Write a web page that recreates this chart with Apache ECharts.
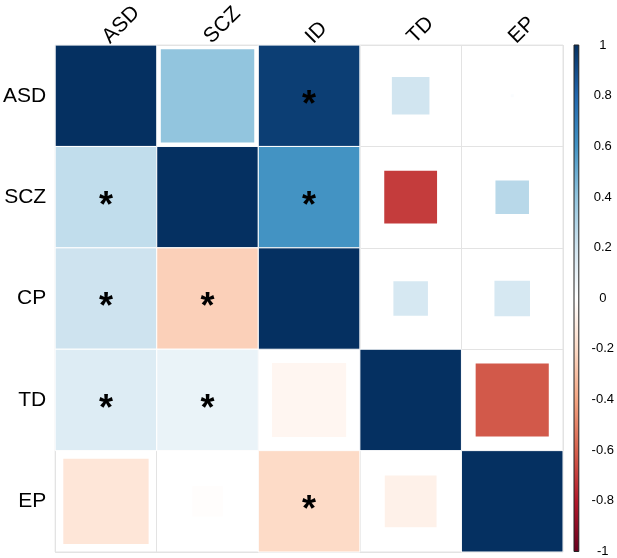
<!DOCTYPE html>
<html>
<head>
<meta charset="utf-8">
<script src="https://cdn.jsdelivr.net/npm/echarts@6/dist/echarts.min.js"></script>
<style>
html,body{margin:0;padding:0;background:#fff;}
#chart{width:617px;height:558px;}
</style>
</head>
<body>
<div id="chart"></div>
<script>
// ---- data ----
var columns = ['ASD', 'SCZ', 'ID', 'TD', 'EP'];
var rows = ['ASD', 'SCZ', 'CP', 'TD', 'EP'];
// correlation values (row by row)
var valASD = [1, 0.40, 0.95, 0.20, 0.02];
var valSCZ = [0.25, 1, 0.60, -0.70, 0.28];
var valCP  = [0.21, -0.24, 1, 0.18, 0.18];
var valTD  = [0.15, 0.09, -0.05, 1, -0.62];
var valEP  = [-0.14, -0.01, -0.20, -0.08, 1];
// relative square size in cell
var sizeASD = [1, 0.92, 1, 0.37, 0.03];
var sizeSCZ = [1, 1, 1, 0.52, 0.33];
var sizeCP  = [1, 1, 1, 0.34, 0.35];
var sizeTD  = [1, 1, 0.73, 1, 0.72];
var sizeEP  = [0.84, 0.30, 1, 0.51, 1];
// significance stars
var starASD = [0, 0, 1, 0, 0];
var starSCZ = [1, 0, 1, 0, 0];
var starCP  = [1, 1, 0, 0, 0];
var starTD  = [1, 1, 0, 0, 0];
var starEP  = [0, 0, 1, 0, 0];
// colour bar tick values
var barTicks = [-1, -0.8, -0.6, -0.4, -0.2, 0, 0.2, 0.4, 0.6, 0.8, 1];
var palette = ['#67001F', '#B2182B', '#D6604D', '#F4A582', '#FDDBC7', '#FFFFFF',
               '#D1E5F0', '#92C5DE', '#4393C3', '#2166AC', '#053061'];

var values = [valASD, valSCZ, valCP, valTD, valEP];
var sizes = [sizeASD, sizeSCZ, sizeCP, sizeTD, sizeEP];
var stars = [starASD, starSCZ, starCP, starTD, starEP];

var cells = [];
for (var r = 0; r < rows.length; r++) {
  for (var c = 0; c < columns.length; c++) {
    cells.push([c, r, values[r][c], sizes[r][c], stars[r][c]]);
  }
}

var FONT = 'Liberation Sans, Arial, Helvetica, sans-serif';
var chart = echarts.init(document.getElementById('chart'), null, {renderer: 'canvas'});

var gradStops = [];
for (var i = 0; i < palette.length; i++) {
  gradStops.push({offset: i / (palette.length - 1), color: palette[palette.length - 1 - i]});
}

var option = {
  animation: false,
  backgroundColor: '#fff',
  grid: [
    {left: 55, right: 54, top: 45, bottom: 6, show: true, borderColor: '#E3E3E3', borderWidth: 1, backgroundColor: 'transparent'},
    {left: 574, width: 13, top: 45, bottom: 5}
  ],
  visualMap: {
    show: false,
    type: 'continuous',
    min: -1,
    max: 1,
    dimension: 2,
    seriesIndex: 0,
    inRange: {color: palette}
  },
  xAxis: [
    {
      type: 'category', data: columns, position: 'top', gridIndex: 0,
      axisLine: {show: false}, axisTick: {show: false},
      splitLine: {show: true, interval: 0, lineStyle: {color: '#E3E3E3', width: 1}},
      axisLabel: {rotate: -45, interval: 0, fontSize: 21, color: '#000', fontFamily: FONT, margin: 5}
    },
    {type: 'value', gridIndex: 1, min: 0, max: 1, show: false}
  ],
  yAxis: [
    {
      type: 'category', data: rows, inverse: true, gridIndex: 0,
      axisLine: {show: false}, axisTick: {show: false},
      splitLine: {show: true, interval: 0, lineStyle: {color: '#E3E3E3', width: 1}},
      axisLabel: {fontSize: 21, color: '#000', fontFamily: FONT, margin: 9}
    },
    {
      type: 'value', gridIndex: 1, min: -1, max: 1, interval: 0.2, position: 'right',
      axisLine: {show: false},
      axisTick: {show: true, length: 3, lineStyle: {color: '#000', width: 1}},
      splitLine: {show: false},
      axisLabel: {
        fontSize: 13, color: '#000', fontFamily: FONT, align: 'center', margin: 24,
        formatter: function (v) { return String(+v.toFixed(1)); }
      }
    }
  ],
  series: [
    {
      type: 'custom',
      xAxisIndex: 0, yAxisIndex: 0,
      encode: {x: 0, y: 1},
      data: cells,
      renderItem: function (params, api) {
        var p = api.coord([api.value(0), api.value(1)]);
        var s = api.size([1, 1]);
        var f = api.value(3);
        var w = s[0] * f, h = s[1] * f;
        var children = [{
          type: 'rect',
          shape: {x: p[0] - w / 2, y: p[1] - h / 2, width: w, height: h},
          style: {fill: api.visual('color'), stroke: f >= 1 ? '#FFFFFF' : null, lineWidth: f >= 1 ? 1 : 0}
        }];
        if (api.value(4)) {
          children.push({
            type: 'text',
            style: {
              text: '*', x: p[0], y: p[1] + 10,
              fontSize: 36, fontWeight: 'bold', fontFamily: FONT, fill: '#000',
              textAlign: 'center', textVerticalAlign: 'middle'
            }
          });
        }
        return {type: 'group', children: children};
      }
    },
    {
      type: 'custom',
      xAxisIndex: 1, yAxisIndex: 1,
      data: [[0, -1, 1]],
      renderItem: function (params, api) {
        var top = api.coord([0, barTicks[barTicks.length - 1]]);
        var bot = api.coord([1, barTicks[0]]);
        return {
          type: 'rect',
          shape: {x: top[0], y: top[1], width: bot[0] - top[0], height: bot[1] - top[1]},
          style: {
            fill: new echarts.graphic.LinearGradient(0, 0, 0, 1, gradStops),
            stroke: '#222', lineWidth: 1
          }
        };
      }
    }
  ]
};
chart.setOption(option);
</script>
</body>
</html>
